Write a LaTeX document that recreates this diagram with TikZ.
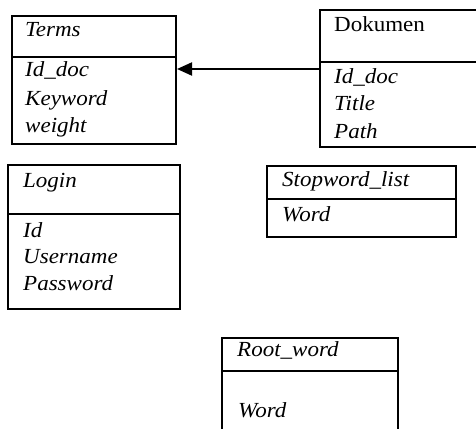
\documentclass[tikz,border=0pt]{standalone}
\usepackage{fontspec}
\setmainfont{Liberation Serif}[FakeStretch=1.07]
\usepackage{tikz}
\usetikzlibrary{arrows.meta}
\newcommand{\tableFont}{\fontsize{21.5pt}{26pt}\selectfont}

\begin{document}
\begin{tikzpicture}[x=1pt, y=-1pt]

            \tikzstyle{boxPart} = [draw, line width=2pt, inner sep=0pt, anchor=north west];
            \tikzstyle{titleText} = [anchor=base west, inner sep=0pt, font=\tableFont\itshape];
            \tikzstyle{fieldText} = [anchor=base west, inner sep=0pt, font=\tableFont\itshape];
            \tikzstyle{link} = [line width=2pt, -{Triangle[length=15pt, width=13pt]}];

            \clip (0,0) rectangle (476,428);

            % Terms
            \node[boxPart, minimum width=164pt, minimum height=41pt] (termsHead) at (11,15) {};
            \node[boxPart, minimum width=164pt, minimum height=87pt] (termsBody) at (11,56) {};
            \node[titleText] (termsTitle) at (25,37) {Terms};
            \node[fieldText] (termsId)  at (25,77)  {Id\_doc};
            \node[fieldText] (termsKey) at (25,105) {Keyword};
            \node[fieldText] (termsWgt) at (25,132) {weight};

            % Dokumen
            \node[boxPart, minimum width=171pt, minimum height=52pt] (dokHead) at (319,9) {};
            \node[boxPart, minimum width=171pt, minimum height=85pt] (dokBody) at (319,61) {};
            \node[titleText, font=\tableFont\upshape] (dokTitle) at (334,32) {Dokumen};
            \node[fieldText] (dokId)    at (334,83)  {Id\_doc};
            \node[fieldText] (dokTitle) at (334,110) {Title};
            \node[fieldText] (dokPath)  at (334,138) {Path};

            % Login
            \node[boxPart, minimum width=172pt, minimum height=49pt] (loginHead) at (7,164) {};
            \node[boxPart, minimum width=172pt, minimum height=95pt] (loginBody) at (7,213) {};
            \node[titleText] (loginTitle) at (23,187) {Login};
            \node[fieldText] (loginId)   at (23,237) {Id};
            \node[fieldText] (loginUser) at (23,263) {Username};
            \node[fieldText] (loginPass) at (23,290) {Password};

            % Stopword_list
            \node[boxPart, minimum width=189pt, minimum height=33pt] (stopHead) at (266,165) {};
            \node[boxPart, minimum width=189pt, minimum height=38pt] (stopBody) at (266,198) {};
            \node[titleText] (stopTitle) at (282,186) {Stopword\_list};
            \node[fieldText] (stopWord)  at (282,221) {Word};

            % Root_word
            \node[boxPart, minimum width=176pt, minimum height=33pt] (rootHead) at (221,337) {};
            \node[boxPart, minimum width=176pt, minimum height=75pt] (rootBody) at (221,370) {};
            \node[titleText] (rootTitle) at (237,356) {Root\_word};
            \node[fieldText] (rootWord)  at (238,417) {Word};

            \coordinate (linkStart) at ([yshift=-8pt]dokBody.north west);
            \draw[link] (linkStart) -- (linkStart -| termsBody.east);
          \end{tikzpicture}
\end{document}
